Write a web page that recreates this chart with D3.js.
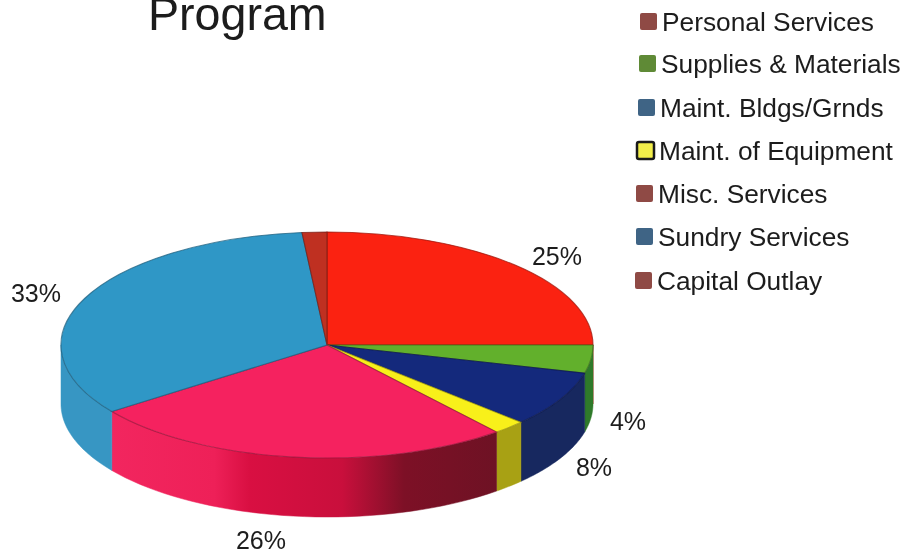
<!DOCTYPE html>
<html>
<head>
<meta charset="utf-8">
<script src="https://cdn.jsdelivr.net/npm/d3@7/dist/d3.min.js"></script>
<style>
html,body{margin:0;padding:0;background:#fff;overflow:hidden}
text{font-family:"Liberation Sans",Arial,sans-serif;fill:#1c1c1c}
</style>
</head>
<body>
<svg id="chart" width="903" height="550"></svg>
<script>
const categories = ["Personal Services","Supplies & Materials","Maint. Bldgs/Grnds","Maint. of Equipment","Misc. Services","Sundry Services","Capital Outlay"];
const values = [25, 4, 8, 2, 26, 33.5, 1.5];
const valueLabels = ["25%","4%","8%","","26%","33%",""];
const topColors = ["#fb2211","#62b02c","#14297c","#f8f01a","#f5225f","#2f97c6","#bf3021"];
const sideColors = ["#c01a0e","#2f7a2a","#17285f","#a8a114","url(#pinkWall)","#3796c3","#8f2418"];
const legendColors = ["#8f4a45","#5f8a36","#3f6485","#f2ee4a","#8f4a45","#3f6485","#8f4a45"];

// layout only
const cx = 327, cy = 345, rx = 266, ry = 113, depth = 59;
const labelX = [557, 628, 594, null, 261, 36, null];
const labelY = [256, 421, 467, null, 540, 293, null];
const legendRowY = [22, 64, 108, 151, 194, 237, 281];
const legendRowX = [640, 639, 638, 637, 636, 636, 635];

const svg = d3.select("#chart");
const defs = svg.append("defs");
const blur = defs.append("filter").attr("id","soft").attr("x","-5%").attr("y","-20%").attr("width","110%").attr("height","140%");
blur.append("feGaussianBlur").attr("stdDeviation",0.45);

const grad = defs.append("linearGradient").attr("id","pinkWall")
  .attr("gradientUnits","userSpaceOnUse").attr("x1",110).attr("x2",497).attr("y1",0).attr("y2",0);
[[0,"#f2265f"],[0.27,"#ee2058"],[0.36,"#d90f42"],[0.6,"#c90f3c"],[0.76,"#7d1026"],[1,"#6e1224"]]
  .forEach(([o,c]) => grad.append("stop").attr("offset",o).attr("stop-color",c));

const slices = d3.pie().sort(null).value(d => d)(values);

const pt = (a, dy = 0) => [cx + rx * Math.sin(a), cy - ry * Math.cos(a) + dy];
const line = d3.line();

// walls: only the front half (pi/2 .. 3pi/2) is visible
const wallG = svg.append("g");
slices.forEach((s, i) => {
  const a0 = Math.max(s.startAngle, Math.PI / 2), a1 = Math.min(s.endAngle, 3 * Math.PI / 2);
  if (a1 <= a0) return;
  const angles = d3.range(0, 41).map(k => a0 + (a1 - a0) * k / 40);
  const pts = angles.map(a => pt(a)).concat(angles.slice().reverse().map(a => pt(a, depth)));
  wallG.append("path").attr("d", line(pts) + "Z").attr("fill", sideColors[i]).attr("stroke", sideColors[i]).attr("stroke-width", 0.5);
});

// top face
const arc = d3.arc().innerRadius(0).outerRadius(rx);
const topG = svg.append("g").attr("transform", `translate(${cx},${cy}) scale(1,${ry/rx})`);
topG.selectAll("path").data(slices).join("path")
  .attr("d", arc)
  .attr("fill", (d,i) => topColors[i])
  .attr("stroke", (d,i) => d3.color(topColors[i]).darker(1.3))
  .attr("stroke-width", 1.1)
  .attr("vector-effect","non-scaling-stroke")
  .attr("stroke-opacity", 0.75);

// title
svg.append("text").attr("x",148).attr("y",30).attr("font-size",46.6).attr("filter","url(#soft)").text("Program");

// value labels
svg.append("g").selectAll("text").data(valueLabels.map((t,i)=>({t,i})).filter(d=>d.t)).join("text")
  .attr("x", d => labelX[d.i]).attr("y", d => labelY[d.i])
  .attr("text-anchor","middle").attr("dominant-baseline","central")
  .attr("font-size",25).attr("filter","url(#soft)").text(d => d.t);

// legend
const leg = svg.append("g").selectAll("g").data(categories).join("g")
  .attr("transform",(d,i)=>`translate(${legendRowX[i]},${legendRowY[i]})`);
leg.append("rect").attr("x",0).attr("y",-9).attr("width",17).attr("height",17).attr("rx",2)
  .attr("fill",(d,i)=>legendColors[i])
  .attr("stroke",(d,i)=> i===3 ? "#1a1a1a" : "none").attr("stroke-width",2.5);
leg.append("text").attr("x",22).attr("y",0).attr("dominant-baseline","central")
  .attr("font-size",26.3).attr("filter","url(#soft)").text(d=>d);
</script>
</body>
</html>
